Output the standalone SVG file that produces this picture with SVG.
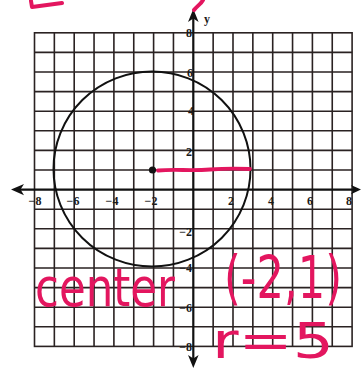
<svg xmlns="http://www.w3.org/2000/svg" width="361" height="374" viewBox="0 0 361 374">
<defs>
<style>
.grid{stroke:#2a2222;stroke-width:1.6;fill:none}
.axis{stroke:#111;stroke-width:2.2;fill:none}
.tick{font-family:"Liberation Serif","Times New Roman",serif;font-weight:bold;font-size:12px;fill:#1a1a1a}
.ink{fill:#e3165f;font-family:"DejaVu Sans","Liberation Sans",sans-serif}
.pen{stroke:#e3165f;fill:none;stroke-linecap:round;stroke-linejoin:round}
</style>
</defs>
<rect width="361" height="374" fill="#ffffff"/>
<g id="grid" class="grid">
<rect x="34.5" y="32.8" width="317.6" height="313.6"/>
<path d="M54.35 32.8V346.4M74.2 32.8V346.4M94.05 32.8V346.4M113.9 32.8V346.4M133.75 32.8V346.4M153.6 32.8V346.4M173.45 32.8V346.4M213.15 32.8V346.4M233 32.8V346.4M252.85 32.8V346.4M272.7 32.8V346.4M292.55 32.8V346.4M312.4 32.8V346.4M332.25 32.8V346.4"/>
<path d="M34.5 52.4H352.1M34.5 72H352.1M34.5 91.6H352.1M34.5 111.2H352.1M34.5 130.8H352.1M34.5 150.4H352.1M34.5 170H352.1M34.5 209.2H352.1M34.5 228.8H352.1M34.5 248.4H352.1M34.5 268H352.1M34.5 287.6H352.1M34.5 307.2H352.1M34.5 326.8H352.1"/>
</g>
<g id="axes">
<path class="axis" d="M16 189.6H358M193.3 14V362"/>
<path d="M11 189.6L24 184L20.5 189.6L24 195.2Z" fill="#111"/>
<path d="M361 189.6L351 185L353.5 189.6L351 194.2Z" fill="#111"/>
<path d="M193.3 9L188 22L193.3 18.5L198.6 22Z" fill="#111"/>
<path d="M193.3 368L188 355L193.3 358.5L198.6 355Z" fill="#111"/>
<text class="tick" x="207" y="23" text-anchor="middle" font-size="15">y</text>
</g>
<g id="tick-labels" class="tick">
<text x="35" y="205" text-anchor="middle">−8</text>
<text x="73" y="205" text-anchor="middle">−6</text>
<text x="112" y="205" text-anchor="middle">−4</text>
<text x="151" y="205" text-anchor="middle">−2</text>
<text x="231" y="205" text-anchor="middle">2</text>
<text x="271" y="205" text-anchor="middle">4</text>
<text x="310" y="205" text-anchor="middle">6</text>
<text x="349" y="205" text-anchor="middle">8</text>
<text x="192" y="37" text-anchor="end">8</text>
<text x="193" y="77" text-anchor="end">6</text>
<text x="194" y="115" text-anchor="end">4</text>
<text x="192" y="156" text-anchor="end">2</text>
<text x="192" y="236" text-anchor="end">−2</text>
<text x="192" y="272" text-anchor="end">−4</text>
<text x="192" y="312" text-anchor="end">−6</text>
<text x="192" y="351" text-anchor="end">−8</text>
</g>
<g id="circle">
<ellipse cx="152" cy="169" rx="98.5" ry="97.5" fill="none" stroke="#111" stroke-width="2"/>
<circle cx="152.5" cy="170" r="3.6" fill="#111"/>
</g>
<g id="annotations">
<path class="pen" stroke-width="3.8" d="M158 170.5C175 169 190 171 210 169.5S240 168.5 250 169"/>
<path class="pen" stroke-width="4" d="M31 1L32 7L62 3"/>
<path class="pen" stroke-width="4" d="M194 10C197 6 201 4 203 0"/>
<text class="ink" x="35" y="306" font-size="54" textLength="140" lengthAdjust="spacingAndGlyphs">center</text>
<text class="ink" x="224" y="298" font-size="58" textLength="118" lengthAdjust="spacingAndGlyphs">(-2,1)</text>
<text class="ink" x="212" y="358" font-size="50" textLength="122" lengthAdjust="spacingAndGlyphs">r=5</text>
</g>
</svg>
